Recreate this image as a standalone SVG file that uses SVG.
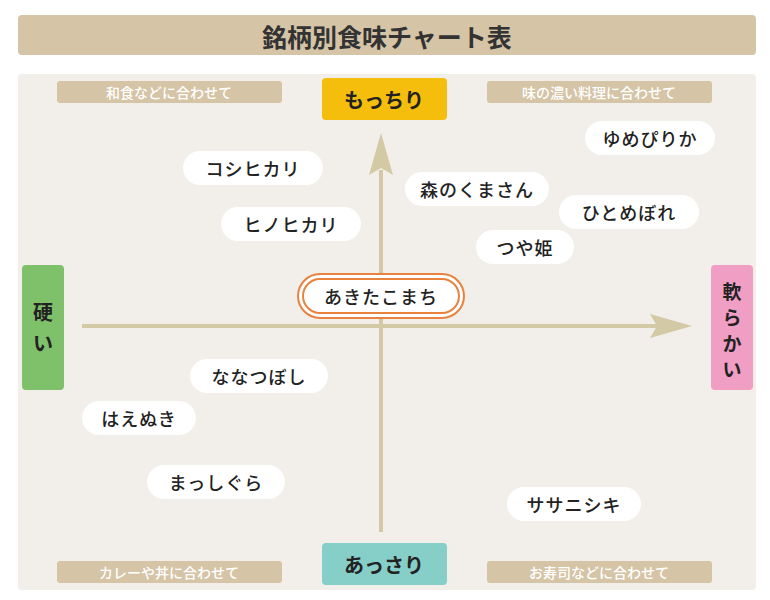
<svg xmlns="http://www.w3.org/2000/svg" width="770" height="600" viewBox="0 0 770 600">
<style>
text{font-family:"Noto Sans CJK JP","Noto Sans",sans-serif;text-anchor:middle;dominant-baseline:central;fill:#222}
.pill{fill:#fff}
.n{font-size:18px;font-weight:500;letter-spacing:1px}
.tag{fill:#d5c4a6}
.t{font-size:14px;fill:#fff;font-weight:500}
.ax{font-size:20px;font-weight:700}
.axv{font-size:19px;font-weight:700}
</style>
<rect width="770" height="600" fill="#fff"/>
<rect x="18" y="15" width="738" height="40" rx="4" fill="#d5c4a6"/>
<text x="387" y="36" style="font-size:25px;font-weight:700;fill:#333">銘柄別食味チャート表</text>
<rect x="18" y="74" width="738" height="516" rx="4" fill="#f2efea"/>
<g id="tags">
<rect class="tag" x="57" y="81" width="225" height="22" rx="3"/><text class="t" x="169" y="92">和食などに合わせて</text>
<rect class="tag" x="487" y="81" width="225" height="22" rx="3"/><text class="t" x="599" y="92">味の濃い料理に合わせて</text>
<rect class="tag" x="57" y="561" width="225" height="22" rx="3"/><text class="t" x="169" y="572">カレーや丼に合わせて</text>
<rect class="tag" x="487" y="561" width="225" height="22" rx="3"/><text class="t" x="599" y="572">お寿司などに合わせて</text>
</g>
<g id="connectors" fill="#d3c9a4" stroke="none">
<rect x="379" y="170" width="4" height="362"/>
<path d="M381 133 L393 175 L381 168 L369 175 Z"/>
<rect x="82" y="324" width="575" height="4"/>
<path d="M692 326 L650 314 L657 326 L650 338 Z"/>
</g>
<g id="axis-top"><rect x="322" y="78" width="125" height="42" rx="4" fill="#f5be0c"/><text class="ax" x="384" y="99">もっちり</text></g>
<g id="axis-bottom"><rect x="322" y="543" width="125" height="42" rx="4" fill="#86cec8"/><text class="ax" x="384" y="564">あっさり</text></g>
<g id="axis-left"><rect x="22" y="265" width="42" height="125" rx="4" fill="#7fc06a"/><text class="ax" x="43" y="311">硬</text><text class="ax" x="43" y="342">い</text></g>
<g id="axis-right"><rect x="711" y="265" width="42" height="125" rx="4" fill="#f19ec4"/><text class="axv" x="732" y="290">軟</text><text class="axv" x="732" y="316">ら</text><text class="axv" x="732" y="342">か</text><text class="axv" x="732" y="368">い</text></g>
<g id="akitakomachi"><rect x="298" y="274" width="166" height="44" rx="22" fill="#fff" stroke="#e8823e" stroke-width="2"/><rect x="303" y="279" width="156" height="34" rx="17" fill="#fff" stroke="#e8823e" stroke-width="2"/><text class="n" x="381" y="296">あきたこまち</text></g>
<g id="koshihikari"><rect class="pill" x="183" y="151" width="140" height="34" rx="17"/><text class="n" x="253" y="168">コシヒカリ</text></g>
<g id="hinohikari"><rect class="pill" x="221" y="207" width="140" height="34" rx="17"/><text class="n" x="291" y="224">ヒノヒカリ</text></g>
<g id="morinokuma"><rect class="pill" x="405" y="172" width="144" height="34" rx="17"/><text class="n" x="477" y="189">森のくまさん</text></g>
<g id="yumepirika"><rect class="pill" x="585" y="121" width="130" height="34" rx="17"/><text class="n" x="650" y="138">ゆめぴりか</text></g>
<g id="hitomebore"><rect class="pill" x="559" y="195" width="140" height="34" rx="17"/><text class="n" x="629" y="212">ひとめぼれ</text></g>
<g id="tsuyahime"><rect class="pill" x="476" y="230" width="98" height="34" rx="17"/><text class="n" x="525" y="247">つや姫</text></g>
<g id="nanatsuboshi"><rect class="pill" x="190" y="359" width="138" height="34" rx="17"/><text class="n" x="259" y="376">ななつぼし</text></g>
<g id="haenuki"><rect class="pill" x="82" y="401" width="114" height="34" rx="17"/><text class="n" x="139" y="418">はえぬき</text></g>
<g id="masshigura"><rect class="pill" x="147" y="465" width="138" height="34" rx="17"/><text class="n" x="216" y="482">まっしぐら</text></g>
<g id="sasanishiki"><rect class="pill" x="507" y="487" width="134" height="34" rx="17"/><text class="n" x="574" y="504">ササニシキ</text></g>
</svg>
